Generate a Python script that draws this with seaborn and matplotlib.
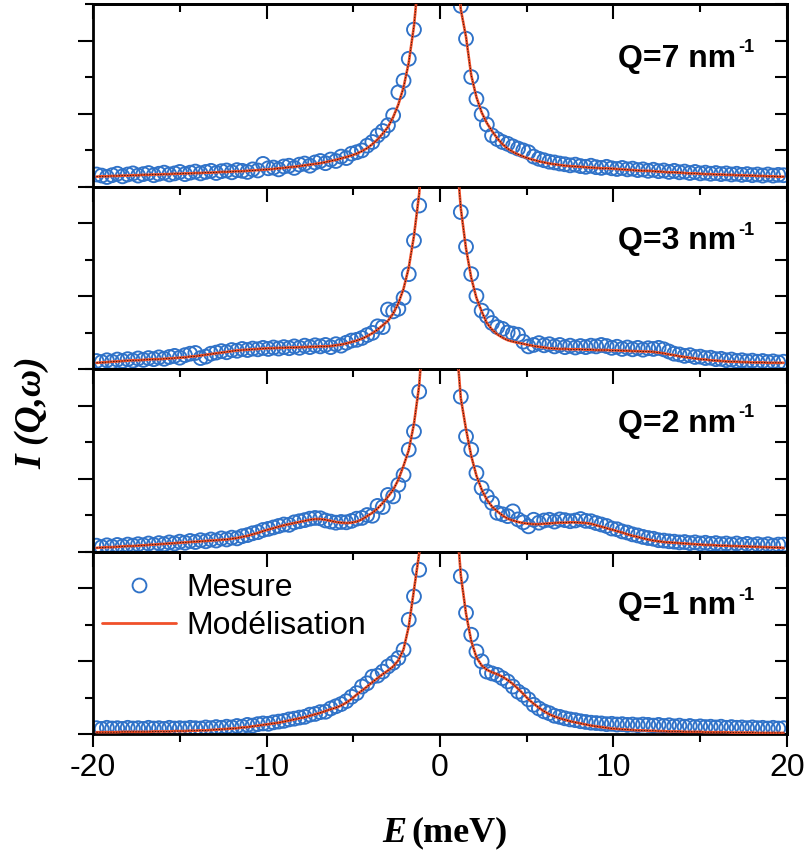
import matplotlib
matplotlib.use("Agg")
import matplotlib.pyplot as plt
from matplotlib.lines import Line2D
from matplotlib.ticker import MultipleLocator
import seaborn as sns

# energy channels (meV), negative and positive side of the elastic peak
energy_neg = [-19.8, -19.5, -19.2, -18.9, -18.6, -18.3, -18.0, -17.7, -17.4, -17.1,
              -16.8, -16.5, -16.2, -15.9, -15.6, -15.3, -15.0, -14.7, -14.4, -14.1,
              -13.8, -13.5, -13.2, -12.9, -12.6, -12.3, -12.0, -11.7, -11.4, -11.1,
              -10.8, -10.5, -10.2, -9.9, -9.6, -9.3, -9.0, -8.7, -8.4, -8.1,
              -7.8, -7.5, -7.2, -6.9, -6.6, -6.3, -6.0, -5.7, -5.4, -5.1,
              -4.8, -4.5, -4.2, -3.9, -3.6, -3.3, -3.0, -2.7, -2.4, -2.1,
              -1.8, -1.5, -1.2, -0.9]
energy_pos = [0.9, 1.2, 1.5, 1.8, 2.1, 2.4, 2.7, 3.0, 3.3, 3.6,
              3.9, 4.2, 4.5, 4.8, 5.1, 5.4, 5.7, 6.0, 6.3, 6.6,
              6.9, 7.2, 7.5, 7.8, 8.1, 8.4, 8.7, 9.0, 9.3, 9.6,
              9.9, 10.2, 10.5, 10.8, 11.1, 11.4, 11.7, 12.0, 12.3, 12.6,
              12.9, 13.2, 13.5, 13.8, 14.1, 14.4, 14.7, 15.0, 15.3, 15.6,
              15.9, 16.2, 16.5, 16.8, 17.1, 17.4, 17.7, 18.0, 18.3, 18.6,
              18.9, 19.2, 19.5, 19.8]

# Q = 7 nm-1
meas_q7_neg = [0.33, 0.30, 0.26, 0.31, 0.35, 0.28, 0.33, 0.36, 0.30, 0.34,
               0.37, 0.31, 0.35, 0.38, 0.33, 0.36, 0.40, 0.34, 0.38, 0.41,
               0.36, 0.40, 0.43, 0.37, 0.42, 0.44, 0.39, 0.45, 0.43, 0.40,
               0.47, 0.44, 0.62, 0.50, 0.52, 0.47, 0.55, 0.57, 0.51, 0.60,
               0.63, 0.57, 0.66, 0.70, 0.64, 0.74, 0.70, 0.82, 0.78, 0.90,
               0.94, 0.99, 1.12, 1.22, 1.40, 1.52, 1.68, 1.95, 2.58, 2.90,
               3.50, 4.30, 5.90, 8.00]
meas_q7_pos = [6.90, 4.95, 4.05, 3.00, 2.40, 1.98, 1.70, 1.40, 1.30, 1.22,
               1.17, 1.10, 1.04, 0.99, 0.94, 0.82, 0.76, 0.72, 0.68, 0.66,
               0.63, 0.61, 0.58, 0.60, 0.56, 0.54, 0.57, 0.53, 0.51, 0.54,
               0.50, 0.48, 0.51, 0.47, 0.49, 0.45, 0.47, 0.43, 0.46, 0.42,
               0.44, 0.40, 0.43, 0.39, 0.41, 0.37, 0.40, 0.36, 0.38, 0.35,
               0.37, 0.34, 0.36, 0.33, 0.35, 0.32, 0.34, 0.31, 0.33, 0.30,
               0.33, 0.30, 0.32, 0.31]
fit_q7_neg = [0.27, 0.28, 0.28, 0.29, 0.29, 0.30, 0.30, 0.31, 0.31, 0.32,
              0.32, 0.33, 0.33, 0.34, 0.34, 0.35, 0.35, 0.36, 0.36, 0.37,
              0.37, 0.38, 0.38, 0.39, 0.40, 0.40, 0.41, 0.42, 0.42, 0.43,
              0.44, 0.45, 0.46, 0.47, 0.48, 0.50, 0.51, 0.53, 0.54, 0.56,
              0.58, 0.60, 0.62, 0.64, 0.67, 0.70, 0.73, 0.77, 0.81, 0.85,
              0.90, 0.97, 1.05, 1.16, 1.29, 1.45, 1.63, 1.90, 2.25, 2.72,
              3.40, 4.40, 5.90, 8.50]
fit_q7_pos = [6.60, 4.85, 4.10, 3.05, 2.45, 2.03, 1.74, 1.52, 1.32, 1.16,
              1.04, 0.95, 0.88, 0.82, 0.77, 0.73, 0.69, 0.66, 0.63, 0.61,
              0.59, 0.57, 0.56, 0.55, 0.54, 0.53, 0.52, 0.51, 0.50, 0.50,
              0.49, 0.48, 0.47, 0.46, 0.45, 0.44, 0.43, 0.43, 0.42, 0.41,
              0.40, 0.39, 0.39, 0.38, 0.37, 0.36, 0.36, 0.35, 0.34, 0.34,
              0.33, 0.33, 0.32, 0.32, 0.31, 0.31, 0.30, 0.30, 0.29, 0.29,
              0.28, 0.28, 0.27, 0.27]

# Q = 3 nm-1
meas_q3_neg = [0.22, 0.19, 0.24, 0.20, 0.26, 0.22, 0.27, 0.23, 0.29, 0.25,
               0.30, 0.27, 0.32, 0.28, 0.33, 0.36, 0.31, 0.38, 0.42, 0.44,
               0.30, 0.34, 0.42, 0.45, 0.49, 0.46, 0.52, 0.50, 0.55, 0.52,
               0.56, 0.54, 0.58, 0.55, 0.59, 0.56, 0.60, 0.57, 0.62, 0.58,
               0.64, 0.60, 0.65, 0.62, 0.66, 0.60, 0.68, 0.64, 0.72, 0.78,
               0.80, 0.85, 0.93, 0.99, 1.17, 1.15, 1.63, 1.58, 1.65, 1.95,
               2.60, 3.52, 4.48, 6.50]
meas_q3_pos = [6.00, 4.30, 3.35, 2.60, 2.00, 1.60, 1.45, 1.26, 1.15, 1.10,
               1.00, 0.97, 0.94, 0.75, 0.62, 0.66, 0.71, 0.65, 0.68, 0.62,
               0.66, 0.60, 0.64, 0.59, 0.63, 0.60, 0.64, 0.62, 0.66, 0.63,
               0.58, 0.61, 0.55, 0.59, 0.54, 0.58, 0.53, 0.57, 0.55, 0.58,
               0.54, 0.48, 0.42, 0.40, 0.36, 0.38, 0.33, 0.34, 0.30, 0.31,
               0.27, 0.28, 0.24, 0.26, 0.22, 0.24, 0.21, 0.23, 0.20, 0.22,
               0.19, 0.21, 0.18, 0.20]
fit_q3_neg = [0.17, 0.18, 0.19, 0.20, 0.21, 0.22, 0.23, 0.24, 0.24, 0.25,
              0.26, 0.27, 0.27, 0.28, 0.29, 0.30, 0.31, 0.32, 0.34, 0.35,
              0.37, 0.39, 0.41, 0.43, 0.45, 0.47, 0.49, 0.51, 0.52, 0.53,
              0.54, 0.55, 0.56, 0.57, 0.57, 0.58, 0.58, 0.59, 0.59, 0.60,
              0.60, 0.61, 0.61, 0.62, 0.62, 0.63, 0.65, 0.67, 0.70, 0.74,
              0.78, 0.83, 0.90, 0.98, 1.08, 1.20, 1.32, 1.52, 1.80, 2.20,
              2.78, 3.65, 4.80, 7.00]
fit_q3_pos = [6.20, 4.40, 3.30, 2.50, 1.95, 1.58, 1.26, 1.08, 0.95, 0.86,
              0.79, 0.75, 0.72, 0.69, 0.66, 0.63, 0.61, 0.59, 0.57, 0.56,
              0.55, 0.55, 0.54, 0.54, 0.54, 0.53, 0.53, 0.52, 0.52, 0.52,
              0.51, 0.51, 0.50, 0.50, 0.49, 0.49, 0.48, 0.48, 0.47, 0.45,
              0.43, 0.40, 0.38, 0.35, 0.33, 0.31, 0.29, 0.27, 0.26, 0.24,
              0.23, 0.22, 0.21, 0.20, 0.20, 0.19, 0.19, 0.18, 0.18, 0.18,
              0.17, 0.17, 0.17, 0.17]

# Q = 2 nm-1
meas_q2_neg = [0.16, 0.12, 0.17, 0.13, 0.18, 0.14, 0.19, 0.16, 0.20, 0.17,
               0.22, 0.18, 0.23, 0.20, 0.25, 0.22, 0.27, 0.24, 0.29, 0.26,
               0.31, 0.28, 0.33, 0.30, 0.36, 0.33, 0.38, 0.36, 0.42, 0.45,
               0.50, 0.53, 0.59, 0.62, 0.66, 0.70, 0.74, 0.73, 0.80, 0.83,
               0.86, 0.90, 0.92, 0.91, 0.85, 0.82, 0.79, 0.81, 0.80, 0.84,
               0.90, 0.92, 1.00, 0.98, 1.25, 1.22, 1.55, 1.51, 1.83, 2.10,
               2.79, 3.29, 4.38, 6.20]
meas_q2_pos = [5.80, 4.24, 3.15, 2.79, 2.15, 1.74, 1.51, 1.33, 1.06, 1.02,
               0.97, 1.10, 0.88, 0.80, 0.69, 0.87, 0.79, 0.85, 0.87, 0.82,
               0.88, 0.86, 0.83, 0.85, 0.89, 0.84, 0.83, 0.78, 0.74, 0.70,
               0.63, 0.61, 0.55, 0.52, 0.47, 0.44, 0.40, 0.37, 0.35, 0.31,
               0.30, 0.28, 0.27, 0.25, 0.26, 0.23, 0.25, 0.22, 0.24, 0.21,
               0.23, 0.20, 0.22, 0.19, 0.22, 0.18, 0.21, 0.17, 0.20, 0.17,
               0.20, 0.16, 0.19, 0.19]
fit_q2_neg = [0.10, 0.11, 0.12, 0.12, 0.13, 0.14, 0.15, 0.15, 0.16, 0.17,
              0.18, 0.19, 0.20, 0.21, 0.22, 0.23, 0.24, 0.25, 0.26, 0.27,
              0.28, 0.29, 0.30, 0.31, 0.32, 0.33, 0.35, 0.37, 0.40, 0.43,
              0.47, 0.51, 0.56, 0.60, 0.64, 0.68, 0.72, 0.75, 0.78, 0.81,
              0.84, 0.87, 0.89, 0.89, 0.87, 0.84, 0.81, 0.79, 0.78, 0.79,
              0.82, 0.88, 0.97, 1.06, 1.18, 1.33, 1.50, 1.69, 1.97, 2.35,
              2.78, 3.50, 4.55, 6.50]
fit_q2_pos = [6.00, 4.20, 3.35, 2.62, 2.08, 1.70, 1.42, 1.23, 1.10, 0.99,
              0.90, 0.85, 0.81, 0.78, 0.76, 0.75, 0.75, 0.76, 0.77, 0.78,
              0.79, 0.79, 0.80, 0.80, 0.79, 0.78, 0.76, 0.72, 0.68, 0.64,
              0.60, 0.56, 0.52, 0.47, 0.43, 0.40, 0.36, 0.33, 0.30, 0.28,
              0.26, 0.25, 0.24, 0.23, 0.22, 0.21, 0.20, 0.19, 0.18, 0.18,
              0.17, 0.16, 0.16, 0.15, 0.15, 0.14, 0.14, 0.13, 0.13, 0.12,
              0.12, 0.11, 0.11, 0.10]

# Q = 1 nm-1
meas_q1_neg = [0.16, 0.14, 0.17, 0.15, 0.16, 0.14, 0.17, 0.15, 0.16, 0.14,
               0.17, 0.15, 0.16, 0.14, 0.17, 0.15, 0.16, 0.15, 0.17, 0.16,
               0.15, 0.18, 0.16, 0.19, 0.17, 0.20, 0.18, 0.22, 0.20, 0.25,
               0.23, 0.27, 0.29, 0.28, 0.32, 0.34, 0.36, 0.40, 0.42, 0.45,
               0.47, 0.53, 0.55, 0.60, 0.61, 0.70, 0.76, 0.82, 0.90, 1.02,
               1.12, 1.30, 1.39, 1.57, 1.60, 1.71, 1.85, 1.95, 2.08, 2.31,
               3.13, 3.77, 4.50, 6.50]
meas_q1_pos = [6.00, 4.32, 3.32, 2.72, 2.26, 1.99, 1.71, 1.66, 1.62, 1.53,
               1.44, 1.30, 1.16, 1.07, 0.95, 0.80, 0.70, 0.62, 0.57, 0.50,
               0.47, 0.43, 0.40, 0.38, 0.35, 0.33, 0.31, 0.30, 0.29, 0.27,
               0.28, 0.26, 0.27, 0.25, 0.26, 0.24, 0.26, 0.25, 0.23, 0.25,
               0.22, 0.24, 0.21, 0.23, 0.20, 0.22, 0.19, 0.21, 0.19, 0.20,
               0.18, 0.20, 0.17, 0.19, 0.17, 0.18, 0.16, 0.18, 0.16, 0.17,
               0.15, 0.17, 0.15, 0.16]
fit_q1_neg = [0.05, 0.05, 0.05, 0.05, 0.05, 0.06, 0.06, 0.06, 0.06, 0.06,
              0.06, 0.07, 0.07, 0.07, 0.07, 0.08, 0.08, 0.08, 0.09, 0.09,
              0.10, 0.10, 0.11, 0.12, 0.13, 0.14, 0.15, 0.16, 0.18, 0.19,
              0.21, 0.23, 0.25, 0.27, 0.29, 0.31, 0.34, 0.37, 0.40, 0.43,
              0.46, 0.50, 0.54, 0.58, 0.63, 0.68, 0.72, 0.78, 0.86, 0.96,
              1.08, 1.19, 1.30, 1.42, 1.53, 1.64, 1.74, 1.85, 2.02, 2.32,
              2.95, 3.95, 4.95, 6.80]
fit_q1_pos = [6.20, 4.35, 3.30, 2.55, 2.10, 1.88, 1.76, 1.69, 1.64, 1.57,
              1.48, 1.37, 1.24, 1.10, 0.95, 0.83, 0.72, 0.62, 0.54, 0.48,
              0.43, 0.39, 0.35, 0.32, 0.29, 0.26, 0.23, 0.21, 0.19, 0.17,
              0.15, 0.14, 0.13, 0.12, 0.11, 0.10, 0.10, 0.09, 0.09, 0.08,
              0.08, 0.07, 0.07, 0.07, 0.06, 0.06, 0.06, 0.06, 0.05, 0.05,
              0.05, 0.05, 0.05, 0.04, 0.04, 0.04, 0.04, 0.04, 0.03, 0.03,
              0.03, 0.03, 0.03, 0.03]

q_labels = ["7", "3", "2", "1"]
panels = [
    (meas_q7_neg, meas_q7_pos, fit_q7_neg, fit_q7_pos),
    (meas_q3_neg, meas_q3_pos, fit_q3_neg, fit_q3_pos),
    (meas_q2_neg, meas_q2_pos, fit_q2_neg, fit_q2_pos),
    (meas_q1_neg, meas_q1_pos, fit_q1_neg, fit_q1_pos),
]

sns.set_style("ticks", {"axes.edgecolor": "black", "xtick.color": "black",
                        "ytick.color": "black", "text.color": "black",
                        "axes.labelcolor": "black"})
plt.rcParams['font.family'] = ['Liberation Sans', 'DejaVu Sans']
plt.rcParams['axes.unicode_minus'] = False

BLUE = "#2f72c8"
RED = "#f0502a"
SERIF = ['Liberation Serif', 'DejaVu Serif']

fig, axes = plt.subplots(4, 1, figsize=(8.06, 8.59), dpi=100, sharex=True)
fig.subplots_adjust(left=0.1154, right=0.9764, top=0.9953, bottom=0.1455, hspace=0)

for i, (ax, q, (m_neg, m_pos, f_neg, f_pos)) in enumerate(zip(axes, q_labels, panels)):
    sns.scatterplot(x=energy_neg + energy_pos, y=m_neg + m_pos, ax=ax,
                    marker='o', s=100, facecolor='none', edgecolor=BLUE,
                    linewidth=1.35, zorder=2)
    for e, f in ((energy_neg, f_neg), (energy_pos, f_pos)):
        sns.lineplot(x=e, y=f, ax=ax, color=RED, lw=1.9, zorder=3)
        ax.plot(e, f, color='black', lw=0.5, ls=(0, (2, 2)), zorder=4)

    ax.set_xlim(-20, 20)
    ax.set_ylim(0, 5)
    ax.set_xlabel("")
    ax.set_ylabel("")
    ax.xaxis.set_major_locator(MultipleLocator(10))
    ax.xaxis.set_minor_locator(MultipleLocator(5))
    ax.yaxis.set_major_locator(MultipleLocator(2))
    ax.yaxis.set_minor_locator(MultipleLocator(1))

    last = i == len(axes) - 1
    ax.tick_params(axis='y', which='both', direction='out', left=True, right=False,
                   labelleft=False, width=1.5)
    ax.tick_params(axis='y', which='major', length=11)
    ax.tick_params(axis='y', which='minor', length=6)
    ax.tick_params(axis='x', which='both', direction='out', top=False,
                   bottom=last, labelbottom=last, width=1.5, labelsize=23, pad=5)
    ax.tick_params(axis='x', which='major', length=9)
    ax.tick_params(axis='x', which='minor', length=6)

    top = ax.secondary_xaxis('top')
    top.xaxis.set_major_locator(MultipleLocator(10))
    top.xaxis.set_minor_locator(MultipleLocator(5))
    top.tick_params(which='both', direction='in', labeltop=False, width=1.5)
    top.tick_params(which='major', length=11)
    top.tick_params(which='minor', length=6)

    right = ax.secondary_yaxis('right')
    right.yaxis.set_major_locator(MultipleLocator(2))
    right.yaxis.set_minor_locator(MultipleLocator(1))
    right.tick_params(which='both', direction='in', labelright=False, width=1.5, length=9)

    for sp in ax.spines.values():
        sp.set_linewidth(2)
    for sp in list(top.spines.values()) + list(right.spines.values()):
        sp.set_linewidth(2)

    t = ax.text(0.757, 0.70, f"Q={q} nm", transform=ax.transAxes, fontsize=23,
                fontweight='bold', ha='left', va='center')
    ax.annotate("-1", xy=(1.0, 1.0), xycoords=t, xytext=(1, -3),
                textcoords='offset points', fontsize=13, fontweight='bold',
                ha='left', va='center')

handles = [
    Line2D([], [], marker='o', ls='none', mfc='none', mec=BLUE, ms=10, mew=1.35),
    Line2D([], [], color=RED, lw=2),
]
axes[-1].legend(handles, ["Mesure", "Modélisation"], loc='upper left',
                bbox_to_anchor=(0.013, 0.88), frameon=False, fontsize=23,
                handlelength=2.3, handletextpad=0.35, labelspacing=0.25,
                borderpad=0, borderaxespad=0)

fig.text(0.04, 0.52, "I (Q,ω)", rotation=90, family=SERIF, fontweight='bold',
         fontstyle='italic', fontsize=27, ha='center', va='center')
fig.text(406 / 806, 0.030, "E", family=SERIF, fontweight='bold', fontstyle='italic',
         fontsize=26, ha='right', va='center')
fig.text(411 / 806, 0.030, "(meV)", family=SERIF, fontweight='bold',
         fontsize=26, ha='left', va='center')

fig.savefig("out.png", dpi=100)
